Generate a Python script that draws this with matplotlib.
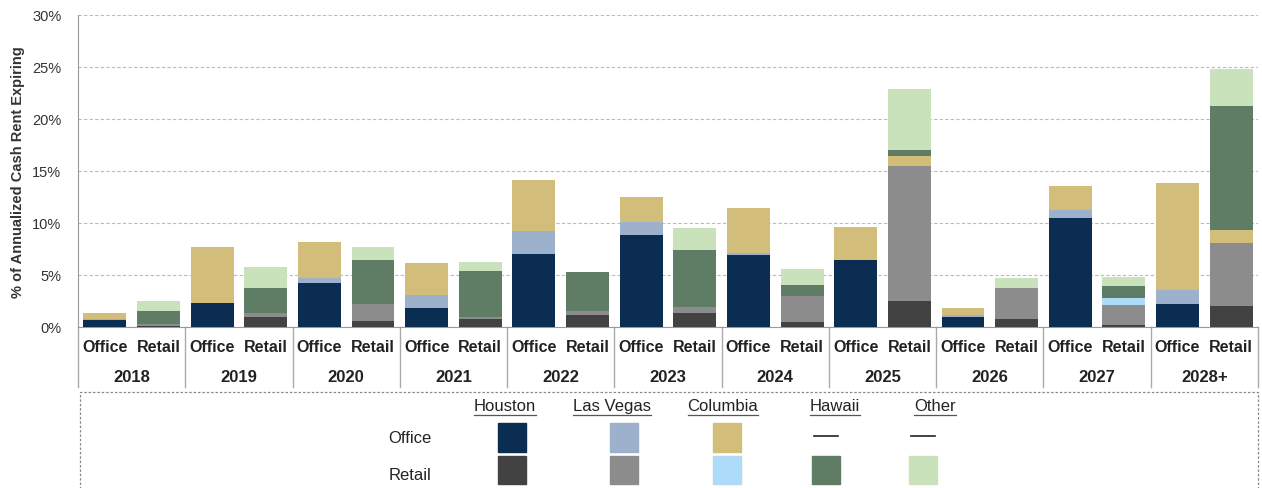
import matplotlib
matplotlib.use("Agg")
import matplotlib.pyplot as plt
import matplotlib.transforms as mtransforms
from matplotlib.patches import Rectangle
import numpy as np

years = ["2018", "2019", "2020", "2021", "2022", "2023", "2024", "2025", "2026", "2027", "2028+"]
sub_labels = ["Office", "Retail"]
regions = ["Houston", "Las Vegas", "Columbia", "Hawaii", "Other"]

office_houston = [0.7, 2.3, 4.2, 1.8, 7.0, 8.8, 6.9, 6.4, 1.0, 10.5, 2.2]
office_lasvegas = [0.1, 0.0, 0.5, 1.3, 2.2, 1.3, 0.2, 0.0, 0.2, 0.7, 1.4]
office_columbia = [0.5, 5.4, 3.5, 3.0, 4.9, 2.4, 4.3, 3.2, 0.6, 2.3, 10.2]

retail_houston = [0.1, 1.0, 0.6, 0.8, 1.2, 1.3, 0.5, 2.5, 0.8, 0.2, 2.0]
retail_lasvegas = [0.2, 0.3, 1.6, 0.2, 0.3, 0.6, 2.5, 13.0, 2.9, 1.9, 6.1]
retail_columbia = [0.0, 0.0, 0.0, 0.0, 0.0, 0.0, 0.0, 0.9, 0.0, 0.7, 1.2]
retail_hawaii = [1.2, 2.4, 4.2, 4.4, 3.8, 5.5, 1.0, 0.6, 0.0, 1.1, 11.9]
retail_other = [1.0, 2.1, 1.3, 0.8, 0.0, 2.1, 1.6, 5.9, 1.0, 0.9, 3.6]

C_OFF_HOU = "#0B2D52"
C_OFF_LV = "#9DB1CC"
C_OFF_COL = "#D3BD7A"
C_RET_HOU = "#424242"
C_RET_LV = "#8C8C8C"
C_RET_COL = "#AEDBF8"
C_RET_HAW = "#5F7C65"
C_RET_OTH = "#C9E2BC"
# the source colours the Retail-Columbia piece tan in 2025 and 2028+
ret_col_colors = [C_RET_COL] * 7 + [C_OFF_COL, C_RET_COL, C_RET_COL, C_OFF_COL]

NARROW = ["Liberation Sans Narrow", "DejaVu Sans Condensed", "Liberation Sans"]

W, H = 1262, 489
fig = plt.figure(figsize=(W / 100, H / 100), dpi=100)
ax = fig.add_axes([78 / W, 1 - 328 / H, (1258 - 78) / W, (328 - 15.7) / H])

n = len(years)
x = np.arange(n)
xo = x + 0.25
xr = x + 0.75
bw = 0.40

def stack(ax, xs, series, colors):
    bottom = np.zeros(len(xs))
    for vals, col in zip(series, colors):
        vals = np.array(vals, dtype=float)
        ax.bar(xs, vals, bw, bottom=bottom, color=col, linewidth=0, zorder=3)
        bottom += vals

stack(ax, xo, [office_houston, office_lasvegas, office_columbia], [C_OFF_HOU, C_OFF_LV, C_OFF_COL])
stack(ax, xr, [retail_houston, retail_lasvegas, retail_columbia, retail_hawaii, retail_other],
      [C_RET_HOU, C_RET_LV, ret_col_colors, C_RET_HAW, C_RET_OTH])

ax.set_xlim(0, n)
ax.set_ylim(0, 30)
ax.set_yticks([0, 5, 10, 15, 20, 25, 30])
ax.set_yticklabels([f"{v}%" for v in [0, 5, 10, 15, 20, 25, 30]], fontsize=10.5, color="#333333",
                   family="Liberation Sans")
ax.tick_params(axis="y", length=0, pad=12)
ax.yaxis.grid(True, linestyle=(0, (3, 2)), color="#BBBBBB", linewidth=0.8, zorder=0)
ax.set_axisbelow(True)
for s in ["top", "right"]:
    ax.spines[s].set_visible(False)
ax.spines["left"].set_color("#999999")
ax.spines["bottom"].set_color("#999999")
ax.spines["left"].set_bounds(0, 30)

ax.set_ylabel("% of Annualized Cash Rent Expiring", fontsize=10.5, fontweight="bold",
              color="#333333", family="Liberation Sans", labelpad=5)

ax.set_xticks(np.concatenate([xo, xr]))
ax.set_xticklabels([sub_labels[0]] * n + [sub_labels[1]] * n, fontsize=11.5, fontweight="bold",
                   color="#222222", family="Liberation Sans")
ax.tick_params(axis="x", length=0, pad=9)

trans = mtransforms.blended_transform_factory(ax.transData, ax.transAxes)
ax_h = 328 - 15.7
sep_bottom = -(388 - 328) / ax_h
for i in range(n + 1):
    ax.plot([i, i], [0, sep_bottom], transform=trans, color="#AAAAAA", lw=1, clip_on=False)
year_y = -(378 - 328) / ax_h
for i, yl in enumerate(years):
    ax.text(i + 0.5, year_y, yl, transform=trans, ha="center", va="center",
            fontsize=12, fontweight="bold", color="#222222", family="Liberation Sans")

# legend table
fig.patches.append(Rectangle((80 / W, -0.05), (1258 - 80) / W, 1 - 393 / H + 0.05,
                             transform=fig.transFigure, fill=False, edgecolor="#888888",
                             linestyle=(0, (2, 1.5)), linewidth=0.9))

def fx(px):
    return px / W

def fy(py):
    return 1 - py / H

head_x = [505, 612, 723, 835, 935]
heads = []
for name, hx in zip(regions, head_x):
    heads.append(fig.text(fx(hx), fy(407), name, ha="center", va="center", fontsize=12,
                          family=NARROW, color="#222222"))
fig.canvas.draw()
r = fig.canvas.get_renderer()
for t in heads:
    bb = t.get_window_extent(r)
    fig.add_artist(plt.Line2D([bb.x0 / W, bb.x1 / W], [fy(416), fy(416)],
                              transform=fig.transFigure, color="#555555", lw=0.9))

fig.text(fx(410), fy(439), "Office", ha="center", va="center", fontsize=12,
         family=NARROW, color="#222222")
fig.text(fx(410), fy(476), "Retail", ha="center", va="center", fontsize=12,
         family=NARROW, color="#222222")

office_sq_x = [512, 624, 727]
office_sq_c = [C_OFF_HOU, C_OFF_LV, C_OFF_COL]
for cx, col in zip(office_sq_x, office_sq_c):
    fig.patches.append(Rectangle((fx(cx - 14), fy(453)), 28 / W, 29 / H,
                                 transform=fig.transFigure, color=col))
for cx in [826, 923]:
    fig.add_artist(plt.Line2D([fx(cx - 12), fx(cx + 12)], [fy(437), fy(437)],
                              transform=fig.transFigure, color="#222222", lw=1.2))
retail_sq_x = [512, 624, 727, 826, 923]
retail_sq_c = [C_RET_HOU, C_RET_LV, C_RET_COL, C_RET_HAW, C_RET_OTH]
for cx, col in zip(retail_sq_x, retail_sq_c):
    fig.patches.append(Rectangle((fx(cx - 14), fy(485)), 28 / W, 28 / H,
                                 transform=fig.transFigure, color=col))

fig.savefig("out.png", dpi=100)
